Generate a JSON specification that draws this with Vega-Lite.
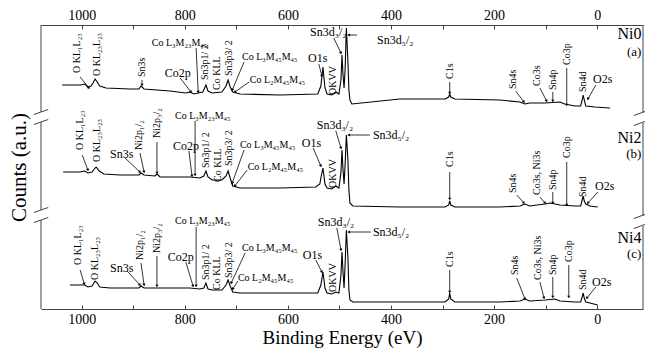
{
  "$schema": "https://vega.github.io/schema/vega-lite/v6.json",
  "width": 602,
  "height": 284,
  "autosize": {"type": "none"},
  "padding": {"left": 41, "top": 25, "right": 2, "bottom": 39},
  "background": "white",
  "config": {
    "view": {"stroke": null},
    "font": "Liberation Serif",
    "axis": {"labelFont": "Liberation Serif", "titleFont": "Liberation Serif"},
    "text": {"font": "Liberation Serif"}
  },
  "datasets": {
    "spectra": [
      {"s":"Ni0","e":1038,"c":224},{"s":"Ni0","e":1003,"c":224},{"s":"Ni0","e":994,"c":225},{"s":"Ni0","e":988,"c":222},{"s":"Ni0","e":982,"c":223},{"s":"Ni0","e":978,"c":226},{"s":"Ni0","e":974,"c":230},{"s":"Ni0","e":970,"c":227},{"s":"Ni0","e":965,"c":223},{"s":"Ni0","e":953,"c":221},{"s":"Ni0","e":906,"c":220},{"s":"Ni0","e":889,"c":220},{"s":"Ni0","e":885,"c":223},{"s":"Ni0","e":879,"c":220},{"s":"Ni0","e":829,"c":218},{"s":"Ni0","e":798,"c":216},{"s":"Ni0","e":790,"c":217},{"s":"Ni0","e":782,"c":215},{"s":"Ni0","e":774,"c":216},{"s":"Ni0","e":765,"c":217},{"s":"Ni0","e":759,"c":224},{"s":"Ni0","e":755,"c":218},{"s":"Ni0","e":747,"c":216},{"s":"Ni0","e":728,"c":217},{"s":"Ni0","e":720,"c":223},{"s":"Ni0","e":716,"c":229},{"s":"Ni0","e":712,"c":222},{"s":"Ni0","e":707,"c":217},{"s":"Ni0","e":693,"c":215},{"s":"Ni0","e":615,"c":214},{"s":"Ni0","e":542,"c":215},{"s":"Ni0","e":536,"c":223},{"s":"Ni0","e":532,"c":242},{"s":"Ni0","e":528,"c":221},{"s":"Ni0","e":524,"c":215},{"s":"Ni0","e":515,"c":214},{"s":"Ni0","e":507,"c":217},{"s":"Ni0","e":501,"c":215},{"s":"Ni0","e":497,"c":229},{"s":"Ni0","e":495,"c":254},{"s":"Ni0","e":493,"c":234},{"s":"Ni0","e":491,"c":221},{"s":"Ni0","e":489,"c":239},{"s":"Ni0","e":486.5,"c":281},{"s":"Ni0","e":483.5,"c":247},{"s":"Ni0","e":481.6,"c":219},{"s":"Ni0","e":479.6,"c":209},{"s":"Ni0","e":475.8,"c":205},{"s":"Ni0","e":383,"c":210},{"s":"Ni0","e":295,"c":210},{"s":"Ni0","e":288,"c":212},{"s":"Ni0","e":286,"c":215},{"s":"Ni0","e":284,"c":212},{"s":"Ni0","e":276,"c":210},{"s":"Ni0","e":189,"c":209},{"s":"Ni0","e":150,"c":207},{"s":"Ni0","e":140,"c":205},{"s":"Ni0","e":131,"c":206},{"s":"Ni0","e":101,"c":206},{"s":"Ni0","e":72,"c":207},{"s":"Ni0","e":63,"c":205},{"s":"Ni0","e":43,"c":203},{"s":"Ni0","e":32,"c":203},{"s":"Ni0","e":29,"c":209},{"s":"Ni0","e":27,"c":214},{"s":"Ni0","e":25,"c":209},{"s":"Ni0","e":22,"c":203},{"s":"Ni0","e":4.5,"c":202},{"s":"Ni0","e":-25,"c":201},
      {"s":"Ni2","e":1036,"c":137},{"s":"Ni2","e":1003,"c":137},{"s":"Ni2","e":994,"c":138},{"s":"Ni2","e":988,"c":136},{"s":"Ni2","e":980,"c":137},{"s":"Ni2","e":974,"c":141},{"s":"Ni2","e":972,"c":142},{"s":"Ni2","e":966,"c":138},{"s":"Ni2","e":957,"c":135},{"s":"Ni2","e":926,"c":134},{"s":"Ni2","e":889,"c":134},{"s":"Ni2","e":885,"c":136},{"s":"Ni2","e":879,"c":134},{"s":"Ni2","e":858,"c":133},{"s":"Ni2","e":854,"c":135},{"s":"Ni2","e":848,"c":132},{"s":"Ni2","e":790,"c":132},{"s":"Ni2","e":771,"c":131},{"s":"Ni2","e":763,"c":133},{"s":"Ni2","e":759,"c":138},{"s":"Ni2","e":755,"c":132},{"s":"Ni2","e":747,"c":129},{"s":"Ni2","e":728,"c":129},{"s":"Ni2","e":720,"c":133},{"s":"Ni2","e":716,"c":138},{"s":"Ni2","e":712,"c":131},{"s":"Ni2","e":707,"c":123},{"s":"Ni2","e":693,"c":121},{"s":"Ni2","e":615,"c":121},{"s":"Ni2","e":546,"c":122},{"s":"Ni2","e":538,"c":125},{"s":"Ni2","e":536,"c":131},{"s":"Ni2","e":532,"c":141},{"s":"Ni2","e":528,"c":125},{"s":"Ni2","e":524,"c":121},{"s":"Ni2","e":515,"c":120},{"s":"Ni2","e":507,"c":123},{"s":"Ni2","e":501,"c":121},{"s":"Ni2","e":497,"c":137},{"s":"Ni2","e":495,"c":159},{"s":"Ni2","e":493,"c":139},{"s":"Ni2","e":491,"c":125},{"s":"Ni2","e":489,"c":144},{"s":"Ni2","e":486.5,"c":174},{"s":"Ni2","e":483.5,"c":149},{"s":"Ni2","e":481.6,"c":119},{"s":"Ni2","e":479.6,"c":106},{"s":"Ni2","e":474,"c":103},{"s":"Ni2","e":383,"c":102},{"s":"Ni2","e":295,"c":102},{"s":"Ni2","e":288,"c":104},{"s":"Ni2","e":286,"c":108},{"s":"Ni2","e":284,"c":104},{"s":"Ni2","e":276,"c":102},{"s":"Ni2","e":189,"c":102},{"s":"Ni2","e":150,"c":103},{"s":"Ni2","e":140,"c":105},{"s":"Ni2","e":131,"c":103},{"s":"Ni2","e":101,"c":105},{"s":"Ni2","e":91,"c":106},{"s":"Ni2","e":72,"c":104},{"s":"Ni2","e":43,"c":103},{"s":"Ni2","e":32,"c":103},{"s":"Ni2","e":29,"c":109},{"s":"Ni2","e":27,"c":113},{"s":"Ni2","e":25,"c":108},{"s":"Ni2","e":22,"c":105},{"s":"Ni2","e":14,"c":103},{"s":"Ni2","e":-1,"c":102},
      {"s":"Ni4","e":1023,"c":24},{"s":"Ni4","e":1003,"c":24},{"s":"Ni4","e":994,"c":24},{"s":"Ni4","e":988,"c":22},{"s":"Ni4","e":980,"c":23},{"s":"Ni4","e":974,"c":28},{"s":"Ni4","e":970,"c":26},{"s":"Ni4","e":965,"c":22},{"s":"Ni4","e":945,"c":21},{"s":"Ni4","e":889,"c":21},{"s":"Ni4","e":885,"c":23},{"s":"Ni4","e":879,"c":21},{"s":"Ni4","e":854,"c":21},{"s":"Ni4","e":790,"c":21},{"s":"Ni4","e":771,"c":20},{"s":"Ni4","e":763,"c":21},{"s":"Ni4","e":759,"c":26},{"s":"Ni4","e":755,"c":20},{"s":"Ni4","e":747,"c":19},{"s":"Ni4","e":728,"c":19},{"s":"Ni4","e":720,"c":24},{"s":"Ni4","e":716,"c":29},{"s":"Ni4","e":712,"c":23},{"s":"Ni4","e":707,"c":17},{"s":"Ni4","e":693,"c":16},{"s":"Ni4","e":615,"c":16},{"s":"Ni4","e":542,"c":16},{"s":"Ni4","e":536,"c":24},{"s":"Ni4","e":532,"c":37},{"s":"Ni4","e":528,"c":21},{"s":"Ni4","e":524,"c":16},{"s":"Ni4","e":515,"c":15},{"s":"Ni4","e":507,"c":17},{"s":"Ni4","e":501,"c":16},{"s":"Ni4","e":497,"c":34},{"s":"Ni4","e":495,"c":57},{"s":"Ni4","e":493,"c":37},{"s":"Ni4","e":491,"c":21},{"s":"Ni4","e":489,"c":44},{"s":"Ni4","e":486.5,"c":79},{"s":"Ni4","e":483.5,"c":51},{"s":"Ni4","e":481.6,"c":19},{"s":"Ni4","e":479.6,"c":9},{"s":"Ni4","e":474,"c":7},{"s":"Ni4","e":383,"c":7},{"s":"Ni4","e":295,"c":7},{"s":"Ni4","e":288,"c":10},{"s":"Ni4","e":286,"c":16},{"s":"Ni4","e":284,"c":10},{"s":"Ni4","e":276,"c":7},{"s":"Ni4","e":189,"c":7},{"s":"Ni4","e":150,"c":8},{"s":"Ni4","e":140,"c":10},{"s":"Ni4","e":131,"c":8},{"s":"Ni4","e":101,"c":9},{"s":"Ni4","e":82,"c":10},{"s":"Ni4","e":72,"c":8},{"s":"Ni4","e":43,"c":7},{"s":"Ni4","e":32,"c":7},{"s":"Ni4","e":29,"c":12},{"s":"Ni4","e":27,"c":16},{"s":"Ni4","e":25,"c":11},{"s":"Ni4","e":22,"c":7},{"s":"Ni4","e":14,"c":6},{"s":"Ni4","e":-1,"c":4}
    ],
    "vlabels": [
      {"t":"O KL₁L₂₃","e":1009,"c":236},{"t":"O KL₂₃L₂₃","e":970,"c":233},{"t":"Sn3s","e":883,"c":232},{"t":"Sn3p1/ 2","e":761,"c":229},{"t":"Co KLL","e":738,"c":219},{"t":"Sn3p3/ 2","e":714,"c":233},{"t":"OKVV","e":513,"c":214},{"t":"C1s","e":286,"c":230},{"t":"Sn4s","e":164,"c":220},{"t":"Co3s","e":117,"c":223},{"t":"Sn4p","e":86,"c":219},{"t":"Co3p","e":59,"c":244},{"t":"Sn4d","e":28,"c":217},
      {"t":"O KL₁L₂₃","e":1003,"c":159},{"t":"O KL₂₃L₂₃","e":970,"c":147},{"t":"Ni2p₁/₂","e":889,"c":159},{"t":"Ni2p₃/₂","e":854,"c":171},{"t":"Sn3p1/ 2","e":759,"c":141},{"t":"Co KLL","e":736,"c":127},{"t":"Sn3p3/ 2","e":714,"c":143},{"t":"OKVV","e":513,"c":121},{"t":"C1s","e":286,"c":142},{"t":"Sn4s","e":164,"c":116},{"t":"Co3s, Ni3s","e":117,"c":114},{"t":"Sn4p","e":86,"c":119},{"t":"Co3p","e":59,"c":151},{"t":"Sn4d","e":28,"c":112},
      {"t":"O KL₁L₂₃","e":1007,"c":44},{"t":"O KL₂₃L₂₃","e":974,"c":29},{"t":"Ni2p₁/₂","e":887,"c":49},{"t":"Ni2p₃/₂","e":854,"c":56},{"t":"Sn3p1/ 2","e":759,"c":29},{"t":"Co KLL","e":738,"c":19},{"t":"Sn3p3/ 2","e":714,"c":31},{"t":"OKVV","e":513,"c":17},{"t":"C1s","e":286,"c":42},{"t":"Sn4s","e":160,"c":34},{"t":"Co3s, Ni3s","e":115,"c":29},{"t":"Sn4p","e":86,"c":34},{"t":"Co3p","e":55,"c":47},{"t":"Sn4d","e":28,"c":19}
    ],
    "augerLabels": [
      {"t":"Co L₃M₂₃M₄₅","e":864,"c":266},{"t":"Co L₃M₄₅M₄₅","e":689,"c":252},{"t":"Co L₂M₄₅M₄₅","e":674,"c":229},
      {"t":"Co L₃M₂₃M₄₅","e":819,"c":193},{"t":"Co L₃M₄₅M₄₅","e":693,"c":164},{"t":"Co L₂M₄₅M₄₅","e":678,"c":142},
      {"t":"Co L₃M₂₃M₄₅","e":819,"c":88},{"t":"Co L₃M₄₅M₄₅","e":689,"c":61},{"t":"Co L₂M₄₅M₄₅","e":697,"c":31}
    ],
    "peakLabels": [
      {"t":"Co2p","e":839,"c":236},{"t":"O1s","e":561,"c":251},{"t":"Sn3d₃/₂","e":557,"c":277},{"t":"Sn3d₅/₂","e":427,"c":269},{"t":"O2s","e":8,"c":230},
      {"t":"Sn3s","e":945,"c":155},{"t":"Co2p","e":823,"c":163},{"t":"O1s","e":573,"c":166},{"t":"Sn3d₃/₂","e":544,"c":184},{"t":"Sn3d₅/₂","e":435,"c":174},{"t":"O2s","e":4,"c":123},
      {"t":"Sn3s","e":945,"c":41},{"t":"Co2p","e":833,"c":52},{"t":"O1s","e":571,"c":54},{"t":"Sn3d₃/₂","e":542,"c":87},{"t":"Sn3d₅/₂","e":435,"c":77},{"t":"O2s","e":10,"c":27}
    ],
    "arrows": [
      {"x1":1003,"y1":232,"x2":986,"y2":221},{"x1":883,"y1":229,"x2":883,"y2":224},{"x1":778,"y1":261,"x2":774,"y2":217},{"x1":809,"y1":231,"x2":788,"y2":217},{"x1":685,"y1":247,"x2":708,"y2":219},{"x1":675,"y1":227,"x2":703,"y2":217},{"x1":540,"y1":245,"x2":534,"y2":233},{"x1":511,"y1":271,"x2":497,"y2":256},{"x1":466,"y1":274,"x2":482,"y2":274},{"x1":286,"y1":227,"x2":286,"y2":216},{"x1":158,"y1":218,"x2":142,"y2":207},{"x1":111,"y1":221,"x2":98,"y2":208},{"x1":86,"y1":217,"x2":86,"y2":208},{"x1":59,"y1":241,"x2":59,"y2":204},{"x1":2.5,"y1":224,"x2":18,"y2":210},
      {"x1":999,"y1":154,"x2":988,"y2":139},{"x1":916,"y1":151,"x2":887,"y2":137},{"x1":887,"y1":156,"x2":879,"y2":137},{"x1":854,"y1":167,"x2":854,"y2":136},{"x1":780,"y1":188,"x2":780,"y2":134},{"x1":792,"y1":158,"x2":786,"y2":133},{"x1":685,"y1":159,"x2":708,"y2":126},{"x1":679,"y1":139,"x2":703,"y2":123},{"x1":551,"y1":161,"x2":536,"y2":143},{"x1":507,"y1":178,"x2":497,"y2":161},{"x1":441,"y1":174,"x2":482,"y2":174},{"x1":286,"y1":137,"x2":286,"y2":110},{"x1":156,"y1":114,"x2":142,"y2":106},{"x1":111,"y1":112,"x2":101,"y2":106},{"x1":86,"y1":117,"x2":86,"y2":106},{"x1":59,"y1":147,"x2":59,"y2":104},{"x1":-1.4,"y1":117,"x2":18,"y2":106},
      {"x1":1003,"y1":39,"x2":995,"y2":25},{"x1":912,"y1":38,"x2":887,"y2":24},{"x1":885,"y1":46,"x2":879,"y2":24},{"x1":854,"y1":53,"x2":854,"y2":23},{"x1":778,"y1":82,"x2":778,"y2":23},{"x1":798,"y1":47,"x2":784,"y2":23},{"x1":683,"y1":56,"x2":710,"y2":26},{"x1":697,"y1":28,"x2":707,"y2":20},{"x1":546,"y1":49,"x2":534,"y2":37},{"x1":505,"y1":81,"x2":497,"y2":59},{"x1":439,"y1":77,"x2":482,"y2":77},{"x1":286,"y1":39,"x2":286,"y2":17},{"x1":156,"y1":31,"x2":140,"y2":10},{"x1":111,"y1":27,"x2":103,"y2":11},{"x1":86,"y1":32,"x2":86,"y2":12},{"x1":55,"y1":44,"x2":55,"y2":12},{"x1":2.5,"y1":22,"x2":20,"y2":11}
    ],
    "sampleNames": [
      {"t":"Ni0","e":-86,"c":275},{"t":"Ni2","e":-86,"c":171},{"t":"Ni4","e":-86,"c":71}
    ],
    "panelTags": [
      {"t":"(a)","e":-86,"c":257},{"t":"(b)","e":-86,"c":155},{"t":"(c)","e":-86,"c":55}
    ],
    "frameSides": [
      {"e":1079,"ya":284,"yb":197},{"e":1079,"ya":187,"yb":99},{"e":1079,"ya":89,"yb":0},
      {"e":-89,"ya":284,"yb":196},{"e":-89,"ya":186,"yb":93},{"e":-89,"ya":83,"yb":0}
    ],
    "breakMarks": [
      {"x1":1093,"y1":194.5,"x2":1065,"y2":199.5},{"x1":1093,"y1":184.5,"x2":1065,"y2":189.5},
      {"x1":1093,"y1":96.5,"x2":1065,"y2":101.5},{"x1":1093,"y1":86.5,"x2":1065,"y2":91.5},
      {"x1":-71,"y1":193.5,"x2":-98,"y2":198.5},{"x1":-71,"y1":183.5,"x2":-98,"y2":188.5},
      {"x1":-71,"y1":90.5,"x2":-98,"y2":95.5},{"x1":-71,"y1":80.5,"x2":-98,"y2":85.5}
    ]
  },
  "layer": [
    {
      "data": {"name": "spectra"},
      "mark": {"type": "line", "color": "#000", "strokeWidth": 1.1},
      "encoding": {
        "x": {
          "field": "e", "type": "quantitative",
          "scale": {"domain": [-89, 1079], "reverse": true, "nice": false, "zero": false},
          "axis": {
            "orient": "bottom",
            "values": [0, 100, 200, 300, 400, 500, 600, 700, 800, 900, 1000],
            "format": "d",
            "labelExpr": "datum.value % 200 === 0 ? datum.label : ''",
            "labelOverlap": false, "labelFlush": false,
            "labelFont": "Liberation Serif", "labelFontSize": 14, "labelColor": "#000", "labelPadding": 7,
            "tickSize": -4, "tickColor": "#444", "domainColor": "#444",
            "grid": false,
            "title": "Binding Energy (eV)", "titleFont": "Liberation Serif", "titleFontSize": 19, "titleFontWeight": "normal",
            "titleColor": "#000", "titlePadding": 2
          }
        },
        "y": {
          "field": "c", "type": "quantitative",
          "scale": {"domain": [0, 284], "nice": false, "zero": false},
          "axis": {
            "title": "Counts (a.u.)", "titleFont": "Liberation Serif", "domain": false, "ticks": false, "labels": false, "grid": false,
            "titleFontSize": 21, "titleFontWeight": "normal", "titleColor": "#000", "titlePadding": 12
          }
        },
        "detail": {"field": "s"}
      }
    },
    {
      "data": {"name": "frameSides"},
      "mark": {"type": "rule", "color": "#444", "strokeWidth": 1},
      "encoding": {
        "x": {
          "field": "e", "type": "quantitative",
          "scale": {"domain": [-89, 1079], "reverse": true, "nice": false, "zero": false},
          "axis": {
            "orient": "top",
            "values": [0, 100, 200, 300, 400, 500, 600, 700, 800, 900, 1000],
            "format": "d",
            "labelExpr": "datum.value % 200 === 0 ? datum.label : ''",
            "labelOverlap": false, "labelFlush": false,
            "labelFont": "Liberation Serif", "labelFontSize": 14, "labelColor": "#000", "labelPadding": 7,
            "tickSize": -4, "tickColor": "#444", "domainColor": "#444",
            "grid": false, "title": null
          }
        },
        "y": {"field": "ya", "type": "quantitative", "scale": {"domain": [0, 284], "nice": false, "zero": false}, "axis": null},
        "y2": {"field": "yb"}
      }
    },
    {
      "data": {"name": "breakMarks"},
      "mark": {"type": "rule", "color": "#444", "strokeWidth": 1},
      "encoding": {
        "x": {"field": "x1", "type": "quantitative", "scale": {"domain": [-89, 1079], "reverse": true, "nice": false, "zero": false}, "axis": null},
        "x2": {"field": "x2"},
        "y": {"field": "y1", "type": "quantitative", "scale": {"domain": [0, 284], "nice": false, "zero": false}, "axis": null},
        "y2": {"field": "y2"}
      }
    },
    {
      "data": {"name": "arrows"},
      "mark": {"type": "rule", "color": "#000", "strokeWidth": 0.8},
      "encoding": {
        "x": {"field": "x1", "type": "quantitative", "scale": {"domain": [-89, 1079], "reverse": true, "nice": false, "zero": false}, "axis": null},
        "x2": {"field": "x2"},
        "y": {"field": "y1", "type": "quantitative", "scale": {"domain": [0, 284], "nice": false, "zero": false}, "axis": null},
        "y2": {"field": "y2"}
      }
    },
    {
      "data": {"name": "arrows"},
      "transform": [
        {"calculate": "atan2(-(datum.x2 - datum.x1) * 0.5156, datum.y2 - datum.y1) * 180 / PI", "as": "heading"}
      ],
      "mark": {"type": "point", "shape": "triangle-up", "filled": true, "size": 10, "color": "#000", "opacity": 1},
      "encoding": {
        "x": {"field": "x2", "type": "quantitative", "scale": {"domain": [-89, 1079], "reverse": true, "nice": false, "zero": false}, "axis": null},
        "y": {"field": "y2", "type": "quantitative", "scale": {"domain": [0, 284], "nice": false, "zero": false}, "axis": null},
        "angle": {"field": "heading", "type": "quantitative", "scale": null}
      }
    },
    {
      "data": {"name": "vlabels"},
      "mark": {"type": "text", "angle": 270, "align": "left", "baseline": "middle", "fontSize": 10, "font": "Liberation Serif", "color": "#000"},
      "encoding": {
        "x": {"field": "e", "type": "quantitative", "scale": {"domain": [-89, 1079], "reverse": true, "nice": false, "zero": false}, "axis": null},
        "y": {"field": "c", "type": "quantitative", "scale": {"domain": [0, 284], "nice": false, "zero": false}, "axis": null},
        "text": {"field": "t"}
      }
    },
    {
      "data": {"name": "augerLabels"},
      "mark": {"type": "text", "align": "left", "baseline": "middle", "fontSize": 10, "font": "Liberation Serif", "color": "#000"},
      "encoding": {
        "x": {"field": "e", "type": "quantitative", "scale": {"domain": [-89, 1079], "reverse": true, "nice": false, "zero": false}, "axis": null},
        "y": {"field": "c", "type": "quantitative", "scale": {"domain": [0, 284], "nice": false, "zero": false}, "axis": null},
        "text": {"field": "t"}
      }
    },
    {
      "data": {"name": "peakLabels"},
      "mark": {"type": "text", "align": "left", "baseline": "middle", "fontSize": 12, "font": "Liberation Serif", "color": "#000"},
      "encoding": {
        "x": {"field": "e", "type": "quantitative", "scale": {"domain": [-89, 1079], "reverse": true, "nice": false, "zero": false}, "axis": null},
        "y": {"field": "c", "type": "quantitative", "scale": {"domain": [0, 284], "nice": false, "zero": false}, "axis": null},
        "text": {"field": "t"}
      }
    },
    {
      "data": {"name": "sampleNames"},
      "mark": {"type": "text", "align": "right", "baseline": "middle", "fontSize": 16, "font": "Liberation Serif", "color": "#000"},
      "encoding": {
        "x": {"field": "e", "type": "quantitative", "scale": {"domain": [-89, 1079], "reverse": true, "nice": false, "zero": false}, "axis": null},
        "y": {"field": "c", "type": "quantitative", "scale": {"domain": [0, 284], "nice": false, "zero": false}, "axis": null},
        "text": {"field": "t"}
      }
    },
    {
      "data": {"name": "panelTags"},
      "mark": {"type": "text", "align": "right", "baseline": "middle", "fontSize": 13, "font": "Liberation Serif", "color": "#000"},
      "encoding": {
        "x": {"field": "e", "type": "quantitative", "scale": {"domain": [-89, 1079], "reverse": true, "nice": false, "zero": false}, "axis": null},
        "y": {"field": "c", "type": "quantitative", "scale": {"domain": [0, 284], "nice": false, "zero": false}, "axis": null},
        "text": {"field": "t"}
      }
    }
  ],
  "resolve": {"axis": {"x": "independent", "y": "independent"}}
}
